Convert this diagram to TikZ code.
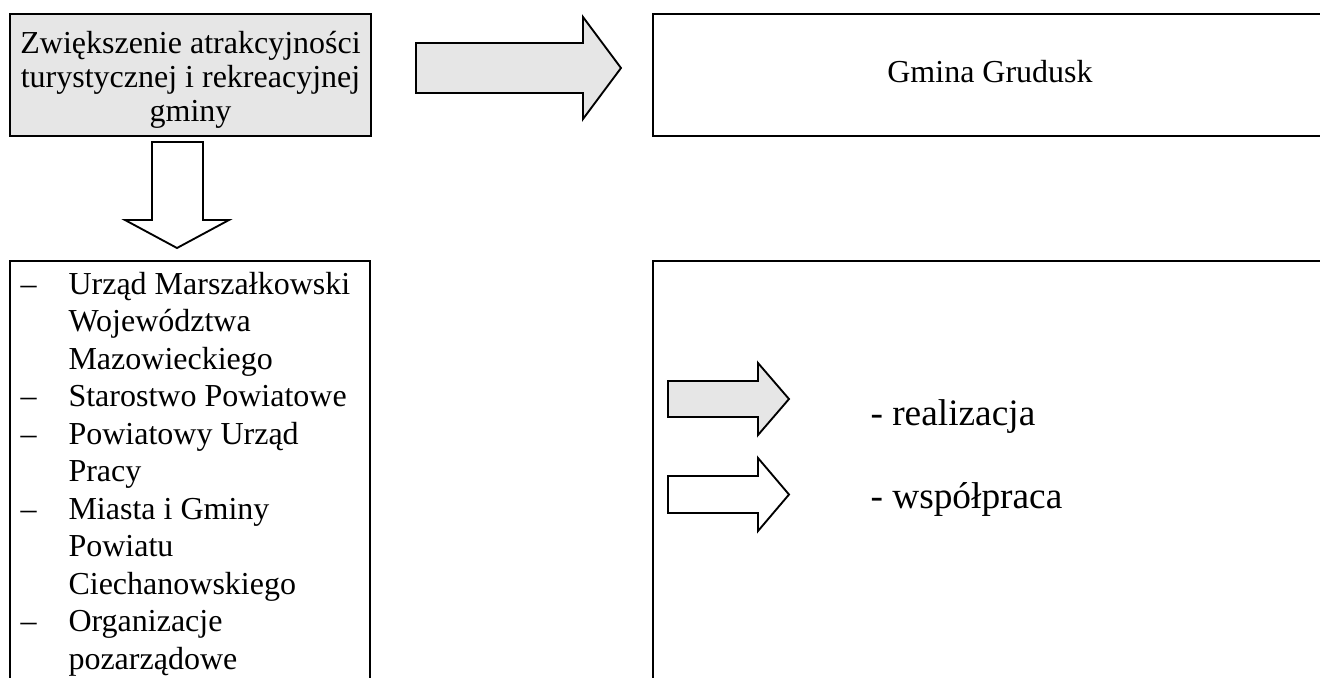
\documentclass[tikz,border=0pt]{standalone}
\usepackage{fontspec}
\setmainfont{Liberation Serif}
\usetikzlibrary{fit}
\definecolor{boxgray}{RGB}{230,230,230}
\begin{document}
\begin{tikzpicture}[x=0.375pt,y=-0.375pt,
  frame/.style={draw=black,line width=1.1pt,inner sep=0pt},
  blockarrow/.style={draw=black,line width=0.7pt,line join=miter},
  twelve/.style={inner sep=0pt,font=\fontsize{12}{14}\selectfont},
  fourteen/.style={inner sep=0pt,anchor=base west,font=\fontsize{14}{16}\selectfont},
  ctr/.style={twelve,anchor=base},
  lft/.style={twelve,anchor=base west}]
\useasboundingbox (0,0) rectangle (1320,677);
\clip (0,0) rectangle (1320,677);
% boxes
\node[frame,fill=boxgray,fit={(10,14) (371,136)}] (goal) {};
\node[frame,fit={(653,14) (1328,136)}] (gmina) {};
\node[frame,fit={(10,261) (370,720)}] (partners) {};
\node[frame,fit={(653,261) (1328,720)}] (legend) {};
% goal text
\node[ctr] (g1) at (190.5,53) {Zwiększenie atrakcyjności};
\node[ctr] (g2) at (190.5,87.5) {turystycznej i rekreacyjnej};
\node[ctr] (g3) at (190.5,121) {gminy};
\node[ctr] (gm) at (990,82) {Gmina Grudusk};
% block arrow goal -> gmina
\draw[blockarrow,fill=boxgray] (416,43) -- (583,43) -- (583,17) -- (621,68) -- (583,119) -- (583,93) -- (416,93) -- cycle;
% block arrow goal -> partners
\draw[blockarrow,fill=white] (152,142) -- (203,142) -- (203,220) -- (229,220) -- (177,248) -- (125,220) -- (152,220) -- cycle;
% partners list
\foreach \i/\t/\d in {0/{Urząd Marszałkowski}/1,1/{Województwa}/0,2/{Mazowieckiego}/0,3/{Starostwo Powiatowe}/1,4/{Powiatowy Urząd}/1,5/{Pracy}/0,6/{Miasta i Gminy}/1,7/{Powiatu}/0,8/{Ciechanowskiego}/0,9/{Organizacje}/1,10/{pozarządowe}/0}{
  \node[lft] (p\i) at (68,294+37.5*\i) {\t};
  \ifnum\d=1 \node[lft] (d\i) at (20,294+37.5*\i) {–};\fi
}
% legend arrows
\draw[blockarrow,fill=boxgray] (668,381) -- (758,381) -- (758,363) -- (789,399) -- (758,435) -- (758,417) -- (668,417) -- cycle;
\draw[blockarrow,fill=white] (668,476) -- (758,476) -- (758,458) -- (789,494.5) -- (758,531) -- (758,513) -- (668,513) -- cycle;
\node[fourteen] (real) at (870,425) {- realizacja};
\node[fourteen] (wsp) at (870,508) {- współpraca};
\end{tikzpicture}
\end{document}
